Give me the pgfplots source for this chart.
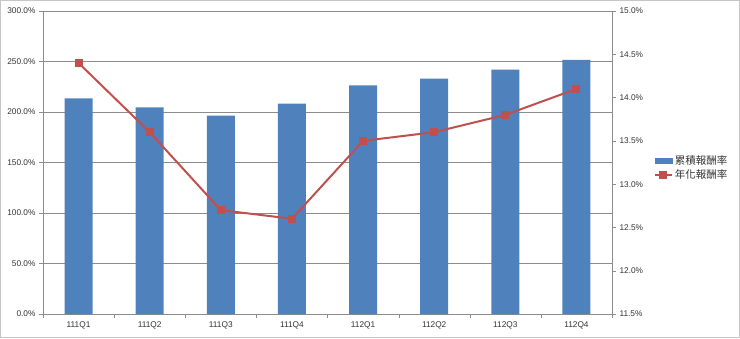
\documentclass[border=0pt]{standalone}
\usepackage{fontspec}
\setmainfont{Liberation Sans}
\newfontfamily\cjk{Noto Sans CJK TC}
\usepackage{pgfplots}
\pgfplotsset{compat=1.18}
\definecolor{barblue}{HTML}{4F81BD}
\definecolor{linered}{HTML}{C0504D}
\definecolor{gridgray}{HTML}{8C8C8C}
\begin{document}
\begin{tikzpicture}[x=1pt,y=1pt]
\draw[draw=gray!45, line width=1pt] (0.5,0.5) rectangle (739.5,337.5);
\useasboundingbox (0,0) rectangle (740,338);
\begin{axis}[
  at={(43pt,24pt)}, anchor=south west, scale only axis,
  width=569pt, height=303pt,
  xmin=-0.5, xmax=7.5, ymin=0, ymax=300,
  xtick={0,...,7},
  xticklabels={111Q1,111Q2,111Q3,111Q4,112Q1,112Q2,112Q3,112Q4},
  minor xtick={-0.5,0.5,...,7.5},
  major x tick style={draw=none},
  minor x tick style={draw=gridgray},
  major tick length=4pt, minor tick length=4pt,
  tick align=outside,
  xtick pos=lower, ytick pos=left,
  ytick={0,50,...,300},
  ymajorgrids, grid style={gridgray, line width=0.6pt},
  axis line style={gridgray, line width=0.6pt},
  y tick style={gridgray},
  /pgf/number format/assume math mode=true,
  yticklabel={\pgfmathprintnumber[fixed,fixed zerofill,precision=1]{\tick}\%},
  ticklabel style={font=\fontsize{8.3}{10}\selectfont, text=black!80},
]
\addplot[ybar, bar width=28pt, fill=barblue, draw=none] coordinates {
  (0,213.6) (1,204.7) (2,196.3) (3,208.2) (4,226.4) (5,233.0) (6,241.9) (7,251.5)};
\end{axis}
\begin{axis}[
  at={(43pt,24pt)}, anchor=south west, scale only axis,
  width=569pt, height=303pt,
  xmin=-0.5, xmax=7.5, ymin=11.5, ymax=15,
  axis x line=none, axis y line*=right,
  ytick={11.5,12,...,15},
  major tick length=4pt, tick align=outside,
  axis line style={gridgray, line width=0.6pt},
  y tick style={gridgray},
  /pgf/number format/assume math mode=true,
  yticklabel={\pgfmathprintnumber[fixed,fixed zerofill,precision=1]{\tick}\%},
  ticklabel style={font=\fontsize{8.3}{10}\selectfont, text=black!80},
  legend cell align=left,
  legend style={at={(1.068,0.482)}, anchor=west, draw=none, fill=none,
    font=\cjk\fontsize{10.5}{12}\selectfont, row sep=0pt, text=black!80},
]
\addlegendimage{area legend, fill=barblue, draw=barblue}
\addlegendentry{累積報酬率}
\addplot[linered, line width=2pt, mark=square*, mark size=3pt, mark options={fill=linered}] coordinates {
  (0,14.4) (1,13.6) (2,12.7) (3,12.6) (4,13.5) (5,13.6) (6,13.8) (7,14.1)};
\addlegendentry{年化報酬率}
\end{axis}
\end{tikzpicture}
\end{document}
